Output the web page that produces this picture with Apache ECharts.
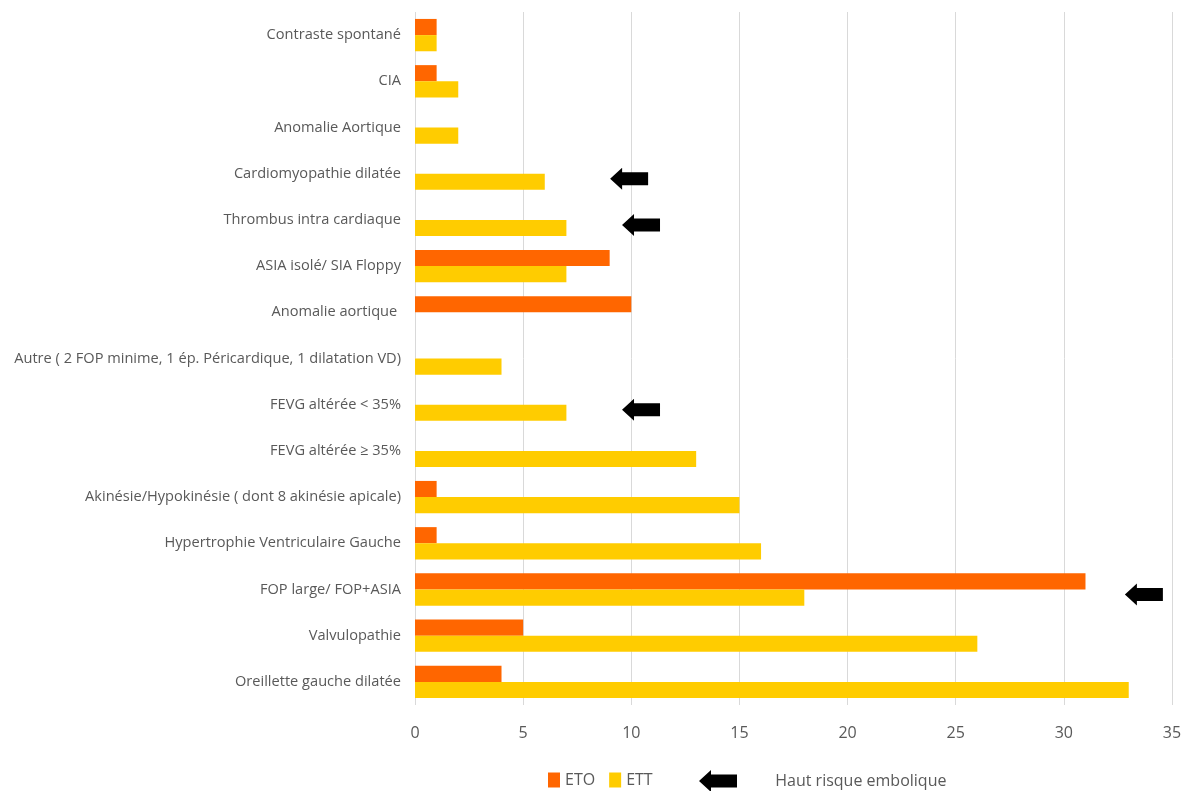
<!DOCTYPE html>
<html><head><meta charset="utf-8">
<script src="https://cdn.jsdelivr.net/npm/echarts@6/dist/echarts.min.js"></script>
<style>html,body{margin:0;padding:0;background:#fff}#c{width:1186px;height:791px}</style>
</head><body><div id="c"></div>
<script>
const categories = [
  "Contraste spontané",
  "CIA",
  "Anomalie Aortique",
  "Cardiomyopathie dilatée",
  "Thrombus intra cardiaque",
  "ASIA isolé/ SIA Floppy",
  "Anomalie aortique ",
  "Autre ( 2 FOP minime, 1 ép. Péricardique, 1 dilatation VD)",
  "FEVG altérée < 35%",
  "FEVG altérée ≥ 35%",
  "Akinésie/Hypokinésie ( dont 8 akinésie apicale)",
  "Hypertrophie Ventriculaire Gauche",
  "FOP large/ FOP+ASIA",
  "Valvulopathie",
  "Oreillette gauche dilatée"
];
const etoValues = [1, 1, 0, 0, 0, 9, 10, 0, 0, 0, 1, 1, 31, 5, 4];
const ettValues = [1, 2, 2, 6, 7, 7, 0, 4, 7, 13, 15, 16, 18, 26, 33];
const riskCategories = ["Cardiomyopathie dilatée", "Thrombus intra cardiaque", "FEVG altérée < 35%", "FOP large/ FOP+ASIA"];
const riskX = [9.9, 10.45, 10.45, 33.7];
const xTicks = [0, 5, 10, 15, 20, 25, 30, 35];

const arrowPath = 'path://M0,11 L12,0 L12,4.5 L38,4.5 L38,17.5 L12,17.5 L12,22 Z';
const font = '"Open Sans", sans-serif';

const chart = echarts.init(document.getElementById('c'));
chart.setOption({
  animation: false,
  backgroundColor: '#fff',
  grid: { left: 415, right: 14, top: 12, bottom: 86, containLabel: false },
  legend: [
    {
      data: ['ETO', 'ETT'], left: 543, top: 767, itemWidth: 12, itemHeight: 15, itemGap: 14,
      icon: 'rect',
      textStyle: { color: '#595959', fontSize: 16, fontFamily: font }
    },
    {
      data: [{ name: 'Haut risque embolique', icon: arrowPath, itemStyle: { color: '#000', opacity: 1 } }],
      left: 694, top: 765, itemWidth: 38, itemHeight: 22,
      formatter: n => '        ' + n,
      textStyle: { color: '#595959', fontSize: 16, fontFamily: font }
    }
  ],
  xAxis: {
    type: 'value', min: 0, max: 35, interval: 5,
    axisLine: { show: false }, axisTick: { show: false },
    splitLine: { show: true, lineStyle: { color: '#D9D9D9', width: 1 } },
    axisLabel: { color: '#595959', fontSize: 16, fontFamily: font, margin: 20,
      formatter: v => xTicks.includes(v) ? String(v) : '' }
  },
  yAxis: {
    type: 'category', data: categories, inverse: true,
    axisLine: { show: false }, axisTick: { show: false },
    axisLabel: { color: '#595959', fontSize: 14.6, fontFamily: font, margin: 14 }
  },
  series: [
    {
      name: 'ETO', type: 'bar', data: etoValues, barGap: '0%', barCategoryGap: '30%',
      itemStyle: { color: '#FF6600' }
    },
    {
      name: 'ETT', type: 'bar', data: ettValues, barGap: '0%', barCategoryGap: '30%',
      itemStyle: { color: '#FFCC00' }
    },
    {
      name: 'Haut risque embolique', type: 'scatter',
      data: riskCategories.map((c, i) => [riskX[i], c]),
      symbol: arrowPath, symbolSize: [38, 22], symbolOffset: [0, 5],
      itemStyle: { color: '#000', opacity: 1 }, z: 5
    }
  ]
});
</script></body></html>
